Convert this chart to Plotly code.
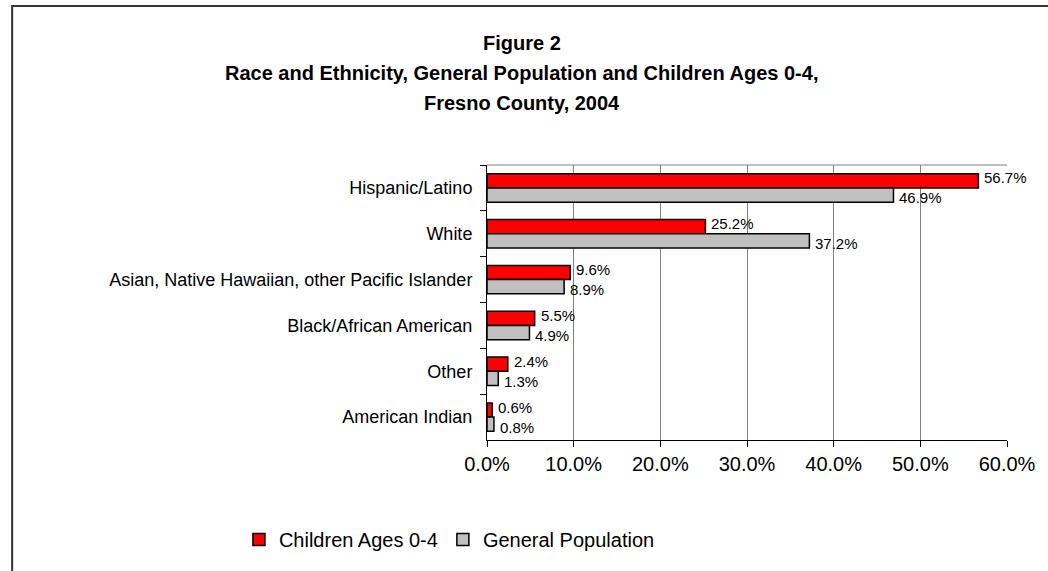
import plotly.graph_objects as go

categories = ["Hispanic/Latino", "White", "Asian, Native Hawaiian, other Pacific Islander",
              "Black/African American", "Other", "American Indian"]
children = [56.7, 25.2, 9.6, 5.5, 2.4, 0.6]
general = [46.9, 37.2, 8.9, 4.9, 1.3, 0.8]
series_names = ["Children Ages 0-4", "General Population"]
x_ticks = [0, 10, 20, 30, 40, 50, 60]
x_tick_labels = ["0.0%", "10.0%", "20.0%", "30.0%", "40.0%", "50.0%", "60.0%"]

FONT = "Liberation Sans, Arial, sans-serif"

fig = go.Figure()
fig.add_trace(go.Bar(
    y=categories, x=children, orientation="h", name=series_names[0],
    marker=dict(color="#FF0000", line=dict(color="black", width=1.5)),
))
fig.add_trace(go.Bar(
    y=categories, x=general, orientation="h", name=series_names[1],
    marker=dict(color="#C0C0C0", line=dict(color="black", width=1.5)),
))

# data labels placed at bar ends via the data axes
for vals, shift in ((children, 10), (general, -10)):
    for cat, v in zip(categories, vals):
        fig.add_annotation(x=v, y=cat, xref="x", yref="y", text=f"{v:.1f}%",
                           showarrow=False, xanchor="left", yanchor="middle",
                           xshift=5, yshift=shift, borderpad=0,
                           font=dict(size=15, family=FONT, color="black"))

L, R, T, B = 487, 37, 165, 131
W, H = 1048, 571
pw = W - L - R
ph = H - T - B

def px_x(p):
    return (p - L) / pw

def px_y(p):
    return (H - B - p) / ph

fig.update_layout(
    width=W, height=H,
    margin=dict(l=L, r=R, t=T, b=B),
    paper_bgcolor="white", plot_bgcolor="white",
    font=dict(family=FONT, size=18, color="black"),
    barmode="group", bargap=0.38, bargroupgap=0,
    showlegend=True,
    legend=dict(orientation="h", x=px_x(237), y=px_y(520), xanchor="left", yanchor="top",
                font=dict(size=20), itemwidth=30, bgcolor="rgba(0,0,0,0)"),
    xaxis=dict(range=[0, 60], tickvals=x_ticks, ticktext=x_tick_labels,
               showgrid=True, gridcolor="#808080", gridwidth=1,
               showline=True, linecolor="black", linewidth=1,
               ticks="outside", ticklen=6, tickcolor="black", zeroline=False,
               tickfont=dict(size=20)),
    yaxis=dict(categoryorder="array", categoryarray=categories, autorange="reversed",
               showline=True, linecolor="black", linewidth=1,
               ticks="outside", tickson="boundaries", ticklen=6, tickcolor="black",
               tickfont=dict(size=18), ticklabelstandoff=10),
)

# top border of plot area (gray)
fig.add_shape(type="line", xref="paper", yref="paper", x0=0, x1=1, y0=1, y1=1,
              line=dict(color="#808080", width=1))
# outer frame
fig.add_shape(type="rect", xref="paper", yref="paper",
              x0=px_x(8.5), x1=px_x(1200), y0=px_y(6), y1=px_y(700),
              line=dict(color="#333333", width=2), layer="below")

title_lines = ["Figure 2",
               "Race and Ethnicity, General Population and Children Ages 0-4,",
               "Fresno County, 2004"]
for i, line in enumerate(title_lines):
    fig.add_annotation(text=f"<b>{line}</b>", xref="paper", yref="paper",
                       x=px_x(522), y=px_y(43 + 30 * i), xanchor="center", yanchor="middle",
                       showarrow=False, font=dict(size=20, family=FONT, color="black"))

fig.write_html("out.html", config={"displayModeBar": False},
               post_script="document.body.style.margin='0';")
